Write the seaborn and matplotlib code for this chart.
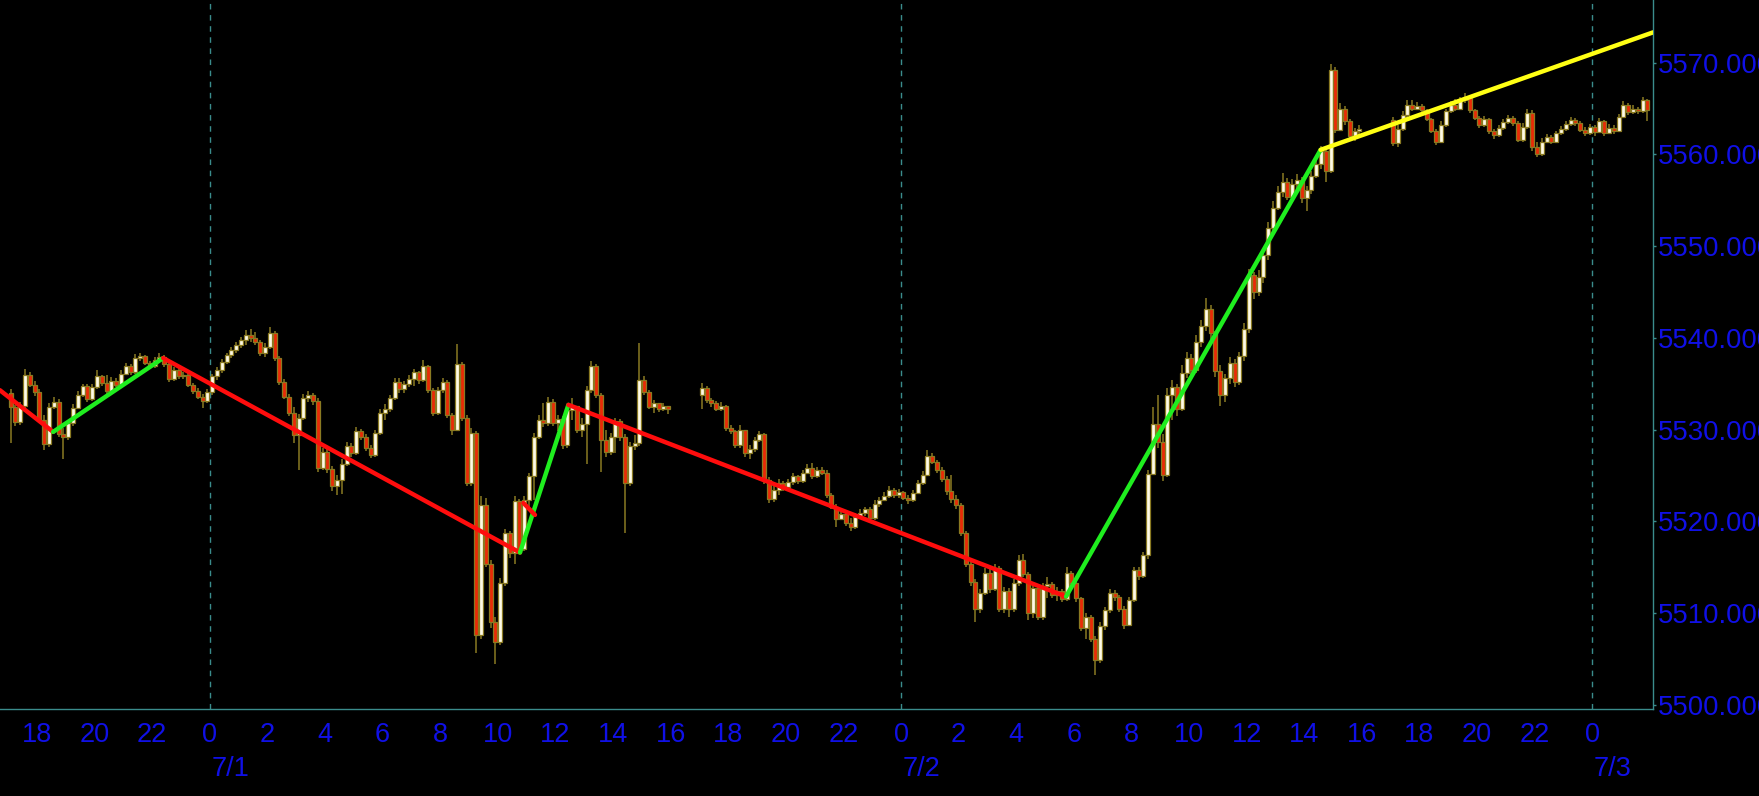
import numpy as np
import pandas as pd
import matplotlib
matplotlib.use("Agg")
import matplotlib.pyplot as plt
import seaborn as sns

sns.set_style("dark")
plt.rcParams['font.family'] = ['Liberation Sans', 'DejaVu Sans']

# ---------------- data (time = hours since 7/1 00:00, 10-minute bars) ----------------
BAR = 1 / 6
s1_start, s2_start, s3_start = -7.0, 17.0, 41.0   # 6/30 17:00, 7/1 17:00, 7/2 17:00
s1_open, s2_open, s3_open = 5534.0, 5533.8, 5563.8

s1_close = [
    5532.5, 5530.8, 5532.6, 5536.0, 5534.9, 5534.1,
    5531.1, 5528.4, 5532.5, 5533.0, 5529.5, 5529.2,
    5530.7, 5532.4, 5533.8, 5534.7, 5533.3, 5534.6,
    5535.8, 5535.1, 5534.2, 5535.3, 5534.9, 5536.1,
    5536.9, 5536.3, 5537.8, 5538.0, 5537.3, 5536.9,
    5537.6, 5537.9, 5537.1, 5535.5, 5536.5, 5535.8,
    5536.0, 5534.9, 5534.2, 5533.6, 5533.1, 5534.1,
    5535.8, 5536.5, 5537.4, 5538.1, 5538.7, 5539.2,
    5539.8, 5540.3, 5540.0, 5539.6, 5538.3, 5539.0,
    5540.5, 5537.8, 5535.2, 5533.6, 5531.8, 5529.4,
    5531.3, 5533.4, 5533.8, 5533.1, 5525.8, 5527.6,
    5525.7, 5523.8, 5524.5, 5526.3, 5528.2, 5527.4,
    5529.9, 5529.2, 5528.0, 5527.2, 5529.6, 5531.8,
    5532.3, 5533.4, 5535.2, 5534.4, 5535.0, 5535.5,
    5536.3, 5535.4, 5536.9, 5534.3, 5531.8, 5534.3,
    5535.2, 5531.6, 5530.0, 5537.1, 5531.3, 5524.2,
    5529.6, 5507.6, 5521.8, 5515.4, 5509.0, 5506.9,
    5513.3, 5518.7, 5516.5, 5522.2, 5517.0, 5522.3,
    5524.9, 5529.2, 5531.1, 5530.7, 5533.0, 5530.7,
    5531.2, 5528.3, 5532.1, 5532.6, 5530.0, 5530.6,
    5534.3, 5536.9, 5533.8, 5528.9, 5527.6, 5529.2,
    5530.9, 5529.2, 5524.2, 5528.2, 5528.5, 5535.4,
    5534.1, 5532.5, 5532.9, 5532.3, 5532.6, 5532.2,
]
s1_high = [
    5534.4, 5532.7, 5533.0, 5536.6, 5536.3, 5535.3,
    5534.4, 5531.6, 5532.9, 5533.6, 5533.3, 5530.2,
    5531.1, 5532.8, 5534.2, 5535.0, 5535.0, 5535.0,
    5536.5, 5536.0, 5535.9, 5535.7, 5535.6, 5536.5,
    5537.3, 5537.1, 5538.2, 5538.4, 5538.1, 5537.5,
    5537.9, 5538.4, 5538.1, 5537.3, 5536.8, 5536.7,
    5536.3, 5536.2, 5535.1, 5534.5, 5533.9, 5534.4,
    5536.1, 5536.8, 5537.7, 5538.4, 5539.0, 5539.5,
    5540.1, 5540.9, 5541.0, 5540.6, 5539.8, 5539.4,
    5541.2, 5540.8, 5538.0, 5535.5, 5533.9, 5532.5,
    5531.7, 5533.9, 5534.2, 5534.0, 5533.4, 5528.0,
    5527.9, 5526.0, 5525.0, 5526.8, 5528.6, 5528.5,
    5530.3, 5530.1, 5529.5, 5528.3, 5530.0, 5532.2,
    5532.8, 5533.8, 5535.6, 5535.6, 5535.3, 5535.9,
    5536.6, 5536.4, 5537.6, 5537.0, 5534.5, 5534.6,
    5535.6, 5535.4, 5531.8, 5539.3, 5537.4, 5531.6,
    5530.2, 5529.9, 5522.8, 5522.6, 5515.8, 5509.6,
    5513.8, 5519.2, 5519.0, 5522.8, 5522.4, 5522.8,
    5525.3, 5529.6, 5531.6, 5532.9, 5533.6, 5533.3,
    5531.6, 5531.5, 5532.7, 5533.4, 5532.6, 5531.3,
    5534.8, 5537.5, 5537.2, 5534.0, 5530.0, 5529.6,
    5531.3, 5531.2, 5529.5, 5528.7, 5529.4, 5539.4,
    5535.8, 5534.3, 5533.2, 5532.9, 5532.9, 5532.6,
]
s1_low = [
    5528.5, 5530.4, 5530.5, 5532.3, 5534.6, 5533.7,
    5530.8, 5527.8, 5528.1, 5532.2, 5529.2, 5526.8,
    5528.9, 5530.4, 5532.2, 5533.6, 5533.0, 5533.1,
    5534.4, 5534.8, 5533.9, 5534.0, 5534.6, 5534.7,
    5535.9, 5536.0, 5536.1, 5537.5, 5537.0, 5536.6,
    5536.7, 5537.3, 5536.8, 5535.2, 5535.3, 5535.5,
    5535.5, 5534.6, 5533.9, 5533.3, 5532.4, 5532.9,
    5533.8, 5535.4, 5536.2, 5537.1, 5537.8, 5538.4,
    5538.9, 5539.2, 5539.6, 5539.2, 5538.0, 5537.9,
    5538.8, 5537.5, 5534.9, 5533.3, 5531.5, 5528.5,
    5525.6, 5531.0, 5533.0, 5532.7, 5525.4, 5525.6,
    5525.3, 5523.3, 5522.9, 5523.0, 5526.0, 5527.0,
    5527.2, 5528.9, 5527.7, 5526.9, 5527.0, 5529.4,
    5531.0, 5531.9, 5533.2, 5534.0, 5534.0, 5534.6,
    5534.8, 5535.0, 5535.2, 5534.0, 5531.5, 5531.6,
    5534.0, 5531.3, 5529.4, 5529.8, 5530.9, 5523.8,
    5523.9, 5505.6, 5507.2, 5515.0, 5508.4, 5504.5,
    5506.5, 5513.0, 5516.0, 5515.4, 5516.5, 5516.8,
    5521.4, 5522.3, 5529.0, 5530.3, 5530.4, 5530.4,
    5529.8, 5527.9, 5528.0, 5531.0, 5529.6, 5529.2,
    5526.3, 5534.0, 5533.5, 5525.4, 5527.0, 5527.2,
    5527.5, 5528.8, 5518.7, 5523.8, 5527.8, 5528.2,
    5533.8, 5532.2, 5531.8, 5531.9, 5532.0, 5531.7,
]

s2_close = [
    5534.5, 5533.2, 5532.9, 5532.3, 5532.6, 5530.2,
    5529.8, 5528.3, 5530.0, 5527.4, 5527.9, 5528.9,
    5529.5, 5524.5, 5522.4, 5523.4, 5524.2, 5523.7,
    5524.3, 5524.9, 5524.4, 5525.3, 5525.8, 5524.9,
    5525.6, 5525.3, 5522.9, 5521.6, 5520.3, 5520.8,
    5519.8, 5519.4, 5520.5, 5520.9, 5521.3, 5520.4,
    5521.9, 5522.3, 5522.8, 5523.4, 5522.9, 5523.2,
    5522.6, 5522.3, 5523.1, 5524.2, 5525.1, 5527.1,
    5526.5, 5525.6, 5524.6, 5523.3, 5522.4, 5521.8,
    5518.7, 5515.4, 5513.4, 5510.4, 5512.2, 5514.4,
    5512.6, 5514.9, 5510.5, 5512.4, 5510.4, 5513.3,
    5515.8, 5514.3, 5510.0, 5512.7, 5509.6, 5512.9,
    5513.2, 5512.0, 5512.4, 5511.5, 5514.4, 5513.3,
    5511.6, 5508.4, 5509.6, 5507.2, 5504.9, 5508.6,
    5510.3, 5512.2, 5511.8, 5510.5, 5508.7, 5511.4,
    5514.7, 5514.0, 5516.3, 5525.2, 5530.6, 5528.6,
    5525.0, 5533.8, 5534.6, 5532.2, 5536.2, 5537.8,
    5536.5, 5539.6, 5541.3, 5543.2, 5540.5, 5536.4,
    5533.8, 5535.6, 5537.3, 5535.2, 5538.0, 5541.0,
    5546.8, 5545.0, 5546.6, 5549.0, 5552.0, 5554.2,
    5555.9, 5557.0, 5555.4, 5556.8, 5557.2, 5555.3,
    5556.1, 5557.6, 5558.9, 5560.4, 5558.2, 5569.2,
    5562.7, 5565.0, 5563.6, 5562.0, 5562.5, 5562.8,
]
s2_high = [
    5535.1, 5534.7, 5533.5, 5533.1, 5533.0, 5532.7,
    5530.5, 5530.0, 5530.5, 5529.9, 5528.3, 5529.2,
    5529.9, 5529.6, 5524.8, 5523.8, 5524.6, 5524.4,
    5524.6, 5525.3, 5525.0, 5525.6, 5526.3, 5526.4,
    5525.9, 5525.9, 5525.6, 5523.1, 5521.9, 5521.2,
    5521.2, 5520.4, 5520.9, 5521.3, 5521.6, 5521.6,
    5522.3, 5522.7, 5523.2, 5523.8, 5523.6, 5523.5,
    5523.3, 5522.9, 5523.4, 5524.5, 5525.5, 5527.8,
    5527.5, 5526.7, 5525.9, 5524.9, 5525.0, 5522.9,
    5522.0, 5518.9, 5515.6, 5513.7, 5512.6, 5514.9,
    5515.1, 5515.3, 5515.1, 5512.8, 5512.7, 5513.7,
    5516.3, 5516.4, 5514.5, 5513.1, 5512.9, 5513.3,
    5513.9, 5513.4, 5512.8, 5512.6, 5515.0, 5514.6,
    5513.5, 5511.8, 5510.0, 5509.8, 5507.5, 5509.0,
    5510.7, 5512.6, 5512.5, 5512.0, 5510.8, 5511.8,
    5515.0, 5515.0, 5516.7, 5525.6, 5532.5, 5533.8,
    5529.5, 5534.5, 5535.4, 5535.0, 5537.0, 5538.5,
    5538.2, 5540.3, 5542.0, 5544.3, 5543.6, 5540.8,
    5537.0, 5536.1, 5537.9, 5537.7, 5538.5, 5541.6,
    5547.5, 5547.2, 5547.4, 5549.6, 5552.6, 5554.9,
    5556.6, 5558.0, 5557.4, 5557.3, 5557.9, 5557.5,
    5556.6, 5558.2, 5559.4, 5560.9, 5560.7, 5569.8,
    5569.5, 5565.6, 5565.3, 5563.9, 5562.9, 5563.2,
]
s2_low = [
    5532.3, 5532.9, 5532.5, 5532.0, 5532.0, 5529.9,
    5529.5, 5528.0, 5528.0, 5527.0, 5526.8, 5527.6,
    5528.7, 5524.1, 5522.0, 5522.1, 5522.9, 5523.3,
    5523.5, 5524.0, 5524.1, 5524.2, 5525.2, 5524.6,
    5524.7, 5525.0, 5522.6, 5521.3, 5519.4, 5520.1,
    5519.5, 5519.0, 5519.2, 5520.3, 5520.6, 5520.1,
    5520.2, 5521.6, 5522.2, 5522.6, 5522.6, 5522.5,
    5522.3, 5521.9, 5522.1, 5523.0, 5524.0, 5525.0,
    5526.2, 5525.3, 5524.3, 5522.9, 5522.0, 5521.4,
    5518.4, 5515.0, 5513.0, 5509.0, 5510.0, 5512.0,
    5512.2, 5512.4, 5510.1, 5510.0, 5509.6, 5510.1,
    5513.0, 5513.9, 5509.2, 5509.5, 5509.2, 5509.3,
    5511.6, 5511.6, 5511.3, 5511.2, 5511.3, 5513.0,
    5511.2, 5508.0, 5507.2, 5506.8, 5503.2, 5504.6,
    5508.2, 5510.0, 5511.3, 5510.1, 5508.3, 5508.6,
    5511.2, 5513.6, 5513.8, 5515.9, 5525.0, 5528.0,
    5524.4, 5524.8, 5531.0, 5531.5, 5532.0, 5535.6,
    5535.8, 5536.2, 5539.0, 5540.8, 5539.9, 5535.7,
    5532.6, 5533.0, 5535.0, 5534.6, 5534.9, 5537.5,
    5540.5, 5544.2, 5544.6, 5546.0, 5548.5, 5551.5,
    5553.9, 5555.4, 5555.0, 5555.0, 5556.2, 5554.7,
    5553.8, 5555.7, 5557.4, 5558.4, 5557.0, 5558.0,
    5562.3, 5562.5, 5563.2, 5561.6, 5561.5, 5562.0,
]

s3_close = [
    5561.2, 5562.8, 5564.3, 5565.4, 5565.0, 5565.3,
    5564.8, 5563.9, 5562.6, 5561.4, 5563.2, 5564.7,
    5565.4, 5565.0, 5565.9, 5566.3, 5564.8, 5564.0,
    5563.2, 5563.9, 5562.5, 5562.1, 5562.9, 5563.5,
    5564.0, 5563.4, 5561.6, 5563.0, 5564.5, 5560.8,
    5560.0, 5561.4, 5561.9, 5561.4, 5562.3, 5562.8,
    5563.3, 5563.8, 5563.4, 5562.7, 5562.3, 5563.0,
    5562.4, 5563.6, 5562.3, 5562.9, 5562.5, 5564.1,
    5565.4, 5564.6, 5565.0, 5564.7, 5565.9, 5564.8,
]
s3_high = [
    5564.1, 5563.2, 5564.7, 5565.9, 5565.9, 5565.7,
    5565.5, 5565.0, 5564.0, 5562.8, 5563.6, 5565.0,
    5565.8, 5566.0, 5566.3, 5566.7, 5566.4, 5565.0,
    5564.2, 5564.2, 5564.0, 5562.8, 5563.2, 5563.9,
    5564.3, 5564.2, 5563.6, 5563.4, 5564.9, 5564.8,
    5561.3, 5561.8, 5562.2, 5562.1, 5562.6, 5563.1,
    5563.6, 5564.1, 5564.0, 5563.6, 5563.0, 5563.3,
    5563.2, 5564.0, 5563.8, 5563.3, 5563.2, 5564.4,
    5565.8, 5565.6, 5565.4, 5565.2, 5566.3, 5566.0,
]
s3_low = [
    5560.9, 5560.8, 5562.6, 5564.1, 5564.7, 5564.8,
    5564.5, 5563.6, 5562.3, 5561.0, 5561.2, 5563.0,
    5564.5, 5564.7, 5564.9, 5565.6, 5564.5, 5563.7,
    5562.9, 5563.0, 5562.2, 5561.7, 5561.9, 5562.7,
    5563.3, 5563.1, 5561.3, 5561.4, 5562.8, 5560.4,
    5559.7, 5559.8, 5561.2, 5561.1, 5561.2, 5562.1,
    5562.6, 5563.1, 5563.1, 5562.4, 5562.0, 5562.1,
    5562.0, 5562.3, 5562.0, 5562.2, 5562.2, 5562.4,
    5564.0, 5564.3, 5564.4, 5564.4, 5564.5, 5563.6,
]

# zigzag overlay (time in hours since 7/1 00:00, price)
zz_t = [-7.29, -5.44, -1.62, 10.77, 12.45, 29.73, 38.57, 50.11]
zz_p = [5534.3, 5529.75, 5537.8, 5516.6, 5532.7, 5511.8, 5560.5, 5573.3]
zz_colors = ["#ff0d0d", "#1fee1f", "#ff0d0d", "#1fee1f", "#ff0d0d", "#1fee1f", "#ffff14"]
stub_t = [10.89, 11.29]
stub_p = [5522.0, 5520.7]

y_ticks = [5500, 5510, 5520, 5530, 5540, 5550, 5560, 5570]
day_ticks = [0, 24, 48]
day_labels = ["7/1", "7/2", "7/3"]

# ---------------- build frame ----------------
def build(start, first_open, close, high, low):
    close = np.asarray(close, float)
    n = len(close)
    t = start + (np.arange(n) + 0.5) * BAR
    opn = np.concatenate([[first_open], close[:-1]])
    hi = np.maximum.reduce([np.asarray(high, float), opn, close])
    lo = np.minimum.reduce([np.asarray(low, float), opn, close])
    return pd.DataFrame(dict(t=t, open=opn, high=hi, low=lo, close=close))

df = pd.concat([
    build(s1_start, s1_open, s1_close, s1_high, s1_low),
    build(s2_start, s2_open, s2_close, s2_high, s2_low),
    build(s3_start, s3_open, s3_close, s3_high, s3_low),
], ignore_index=True)

# ---------------- style ----------------
BG = "#000000"
TEAL = "#3a8c8c"
BLUE = "#1010e6"
UP = "#fffbe6"
DOWN = "#ea2a06"
EDGE = "#8a7a22"

W, H = 1759, 796
fig = plt.figure(figsize=(W / 100, H / 100), dpi=100, facecolor=BG)
ax = fig.add_axes([0, 87.5 / H, 1653 / W, 708.5 / H])
ax.set_facecolor(BG)
ax.grid(False)

for t in day_ticks:
    ax.axvline(t, color=TEAL, lw=1.0, ls=(0, (4, 4)), zorder=1)

up = (df.close >= df.open).values
bottom = np.minimum(df.open, df.close).values
height = np.maximum(np.abs(df.close - df.open).values, 0.15)
ax.vlines(df.t, df.low, df.high, color=EDGE, lw=1.1, zorder=2)
ax.bar(df.t[up], height[up], bottom=bottom[up], width=0.14, color=UP,
       edgecolor=EDGE, linewidth=0.9, zorder=3)
ax.bar(df.t[~up], height[~up], bottom=bottom[~up], width=0.14, color=DOWN,
       edgecolor=EDGE, linewidth=0.9, zorder=3)

for i, c in enumerate(zz_colors):
    seg = pd.DataFrame({"t": zz_t[i:i + 2], "p": zz_p[i:i + 2]})
    sns.lineplot(data=seg, x="t", y="p", color=c, lw=3.2, ax=ax, sort=False,
                 estimator=None, zorder=5)
sns.lineplot(x=stub_t, y=stub_p, color="#ff0d0d", lw=3.2, ax=ax, sort=False,
             estimator=None, zorder=5)

ax.set_xlim(-7.285, 50.11)
ax.set_ylim(5499.6, 5576.83)

major = np.arange(-6, 49, 2)
ax.set_xticks(major)
ax.set_xticklabels([str(int(h % 24)) for h in major])
ax.set_xticks(np.arange(-7, 51, 1), minor=True)
ax.tick_params(axis="x", which="both", direction="out", length=2.5, width=1,
               color=TEAL, labelcolor=BLUE, labelsize=19.5, pad=7.0)

ax.yaxis.tick_right()
ax.set_yticks(y_ticks)
ax.set_yticklabels([f"{v:.3f}" for v in y_ticks])
ax.tick_params(axis="y", which="both", direction="out", length=2.5, width=1,
               color=TEAL, labelcolor=BLUE, labelsize=19.8, pad=1.0)
ax.set_xlabel("")
ax.set_ylabel("")

for t, lbl in zip(day_ticks, day_labels):
    ax.annotate(lbl, xy=(t, 0), xycoords=("data", "axes fraction"),
                xytext=(1, -34), textcoords="offset points", ha="left", va="top",
                color=BLUE, fontsize=19.5, annotation_clip=False)

for s in ["top", "left"]:
    ax.spines[s].set_visible(False)
for s in ["bottom", "right"]:
    ax.spines[s].set_visible(True)
    ax.spines[s].set_color(TEAL)
    ax.spines[s].set_linewidth(1.0)

fig.savefig("out.png", dpi=100, facecolor=BG)
